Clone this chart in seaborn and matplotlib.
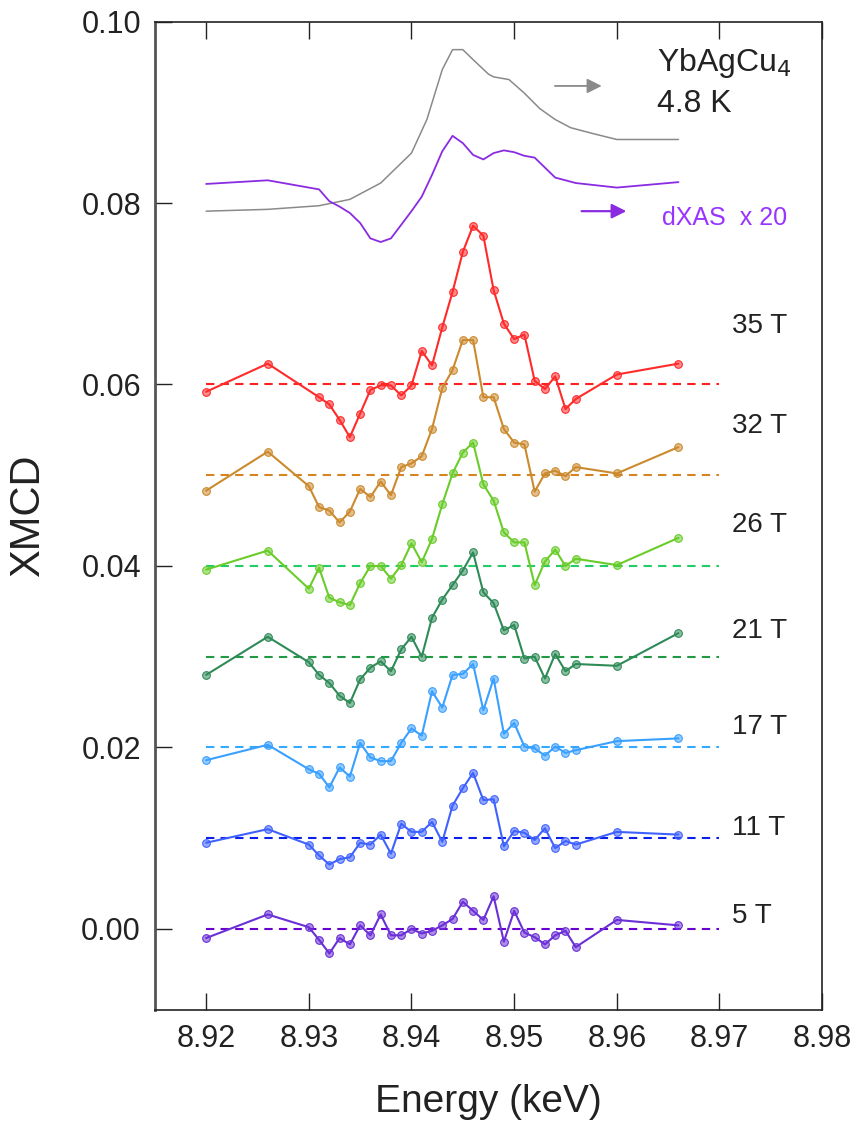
import matplotlib
matplotlib.use("Agg")
import pandas as pd
import matplotlib.pyplot as plt
from matplotlib.colors import to_rgba
import seaborn as sns

# energy grids (keV)
energy = [8.920, 8.926, 8.930, 8.931, 8.932, 8.933, 8.934, 8.935, 8.936, 8.937, 8.938,
          8.939, 8.940, 8.941, 8.942, 8.943, 8.944, 8.945, 8.946, 8.947, 8.948, 8.949,
          8.950, 8.951, 8.952, 8.953, 8.954, 8.955, 8.956, 8.960, 8.966]
energy_35t = [8.920, 8.926, 8.931, 8.932, 8.933, 8.934, 8.935, 8.936, 8.937, 8.938,
              8.939, 8.940, 8.941, 8.942, 8.943, 8.944, 8.945, 8.946, 8.947, 8.948, 8.949,
              8.950, 8.951, 8.952, 8.953, 8.954, 8.955, 8.956, 8.960, 8.966]

# XMCD spectra (already shifted as in the figure)
xmcd_35t = [0.0592, 0.0623, 0.0586, 0.0578, 0.0561, 0.0542, 0.0568, 0.0594, 0.0599, 0.0599,
            0.0588, 0.0599, 0.0637, 0.0621, 0.0663, 0.0702, 0.0746, 0.0775, 0.0764, 0.0704,
            0.0667, 0.0650, 0.0655, 0.0604, 0.0595, 0.0609, 0.0573, 0.0584, 0.0611, 0.0623]
xmcd_32t = [0.0483, 0.0526, 0.0488, 0.0465, 0.0461, 0.0448, 0.0460, 0.0485, 0.0476, 0.0493,
            0.0478, 0.0509, 0.0513, 0.0521, 0.0551, 0.0596, 0.0616, 0.0649, 0.0649, 0.0586,
            0.0586, 0.0551, 0.0536, 0.0534, 0.0482, 0.0502, 0.0505, 0.0499, 0.0509, 0.0502, 0.0531]
xmcd_26t = [0.0396, 0.0417, 0.0375, 0.0398, 0.0365, 0.0360, 0.0357, 0.0381, 0.0400, 0.0400,
            0.0386, 0.0401, 0.0425, 0.0404, 0.0430, 0.0468, 0.0502, 0.0525, 0.0536, 0.0490,
            0.0472, 0.0437, 0.0426, 0.0426, 0.0379, 0.0405, 0.0418, 0.0400, 0.0408, 0.0401, 0.0431]
xmcd_21t = [0.0280, 0.0322, 0.0294, 0.0280, 0.0271, 0.0257, 0.0249, 0.0275, 0.0288, 0.0295,
            0.0284, 0.0308, 0.0322, 0.0300, 0.0343, 0.0363, 0.0379, 0.0395, 0.0415, 0.0371,
            0.0359, 0.0329, 0.0335, 0.0298, 0.0300, 0.0276, 0.0303, 0.0284, 0.0292, 0.0290, 0.0326]
xmcd_17t = [0.0186, 0.0203, 0.0176, 0.0171, 0.0156, 0.0178, 0.0168, 0.0205, 0.0189, 0.0185,
            0.0185, 0.0205, 0.0221, 0.0213, 0.0262, 0.0244, 0.0280, 0.0281, 0.0292, 0.0241,
            0.0276, 0.0215, 0.0227, 0.0201, 0.0199, 0.0191, 0.0201, 0.0194, 0.0197, 0.0207, 0.0210]
xmcd_11t = [0.0095, 0.0110, 0.0093, 0.0081, 0.0071, 0.0077, 0.0079, 0.0095, 0.0093, 0.0104,
            0.0083, 0.0116, 0.0107, 0.0107, 0.0118, 0.0096, 0.0136, 0.0155, 0.0172, 0.0142,
            0.0143, 0.0091, 0.0108, 0.0106, 0.0098, 0.0111, 0.0089, 0.0097, 0.0093, 0.0107, 0.0104]
xmcd_5t = [-0.0010, 0.0016, 0.0002, -0.0012, -0.0027, -0.0010, -0.0017, 0.0004, -0.0007, 0.0016,
           -0.0007, -0.0007, 0.0000, -0.0005, -0.0002, 0.0004, 0.0011, 0.0030, 0.0020, 0.0010,
           0.0036, -0.0014, 0.0020, -0.0004, -0.0009, -0.0017, -0.0007, -0.0002, -0.0020, 0.0010, 0.0004]

fields = ["35 T", "32 T", "26 T", "21 T", "17 T", "11 T", "5 T"]
offsets = [0.06, 0.05, 0.04, 0.03, 0.02, 0.01, 0.00]
label_y = [0.0657, 0.0547, 0.0438, 0.0321, 0.0215, 0.0104, 0.0007]

# XAS and derivative (scaled)
energy_xas = [8.920, 8.926, 8.931, 8.934, 8.937, 8.940, 8.9415, 8.943, 8.944, 8.945, 8.946,
              8.9475, 8.948, 8.9495, 8.951, 8.9525, 8.954, 8.9555, 8.9575, 8.960, 8.966]
xas = [0.0791, 0.0793, 0.0797, 0.0804, 0.0822, 0.0855, 0.0892, 0.0947, 0.0969, 0.0969, 0.0958,
       0.0942, 0.0939, 0.0936, 0.0921, 0.0904, 0.0892, 0.0883, 0.0877, 0.0870, 0.0870]
energy_dxas = [8.920, 8.926, 8.931, 8.932, 8.933, 8.934, 8.935, 8.936, 8.937, 8.938, 8.939,
               8.940, 8.941, 8.942, 8.943, 8.944, 8.945, 8.946, 8.947, 8.948, 8.949, 8.950,
               8.951, 8.952, 8.953, 8.954, 8.956, 8.960, 8.966]
dxas = [0.0821, 0.0825, 0.0815, 0.0802, 0.0796, 0.0789, 0.0778, 0.0761, 0.0757, 0.0761, 0.0776,
        0.0791, 0.0807, 0.0831, 0.0857, 0.0874, 0.0866, 0.0853, 0.0848, 0.0855, 0.0858, 0.0856,
        0.0852, 0.0850, 0.0839, 0.0828, 0.0822, 0.0817, 0.0823]

line_colors = ["#ff2a2a", "#cc8a2e", "#6acc2a", "#2e8b57", "#3aa0ff", "#3f62ff", "#6a2fd6"]
dash_colors = ["#ff2020", "#d48420", "#22cc66", "#229944", "#33aaff", "#0a1fe8", "#6a00d0"]

sns.set_style("ticks")
plt.rcParams['font.family'] = ['Liberation Sans', 'DejaVu Sans']

fig = plt.figure(figsize=(8.6, 11.32), dpi=100)
ax = fig.add_axes([0.180, 0.108, 0.776, 0.873])

series = [xmcd_35t, xmcd_32t, xmcd_26t, xmcd_21t, xmcd_17t, xmcd_11t, xmcd_5t]
for i, vals in enumerate(series):
    x = energy_35t if i == 0 else energy
    df = pd.DataFrame({'Energy': x, 'XMCD': vals})
    ax.hlines(offsets[i], 8.92, 8.97, colors=dash_colors[i], linestyles=(0, (4, 3)), lw=1.5)
    sns.lineplot(data=df, x='Energy', y='XMCD', ax=ax, sort=False, estimator=None,
                 color=line_colors[i], lw=1.5, marker='o', markersize=5.5,
                 markerfacecolor=to_rgba(line_colors[i], 0.55),
                 markeredgecolor=line_colors[i], markeredgewidth=0.8)
    ax.text(8.9712, label_y[i], fields[i], fontsize=20, color='#222222', va='baseline')

sns.lineplot(x=energy_xas, y=xas, ax=ax, sort=False, estimator=None, color='#8a8a8a', lw=1.1)
sns.lineplot(x=energy_dxas, y=dxas, ax=ax, sort=False, estimator=None, color='#8a2be2', lw=1.3)

ax.annotate('', xy=(8.9588, 0.0929), xytext=(8.9537, 0.0929),
            arrowprops=dict(arrowstyle='-|>', color='#8a8a8a', lw=1.3, mutation_scale=22))
ax.annotate('', xy=(8.9612, 0.0791), xytext=(8.9563, 0.0791),
            arrowprops=dict(arrowstyle='-|>', color='#8a2be2', lw=1.6, mutation_scale=22))
ax.text(8.9639, 0.0945, 'YbAgCu$_4$', fontsize=23, color='#222222', va='baseline')
ax.text(8.9639, 0.0900, '4.8 K', fontsize=23, color='#222222', va='baseline')
ax.text(8.9644, 0.0776, 'dXAS  x 20', fontsize=18, color='#9933ff', va='baseline')

ax.set_xlim(8.915, 8.98)
ax.set_ylim(-0.0089, 0.1)
ax.set_xticks([8.92, 8.93, 8.94, 8.95, 8.96, 8.97, 8.98])
ax.set_xticklabels([f"{t:.2f}" for t in ax.get_xticks()])
ax.set_yticks([0.0, 0.02, 0.04, 0.06, 0.08, 0.10])
ax.set_yticklabels([f"{t:.2f}" for t in ax.get_yticks()])
ax.tick_params(axis='both', direction='in', length=12, width=1, labelsize=22, colors='#222222',
               top=True, right=False, pad=10)
ax.set_xlabel('Energy (keV)', fontsize=28, labelpad=22, color='#222222')
ax.set_ylabel('XMCD', fontsize=30, labelpad=24, color='#222222')
for s in ax.spines.values():
    s.set_linewidth(1.2)
    s.set_color('#222222')
ax.spines['left'].set_linewidth(2.0)
ax.spines['left'].set_color('#555555')

fig.savefig('out.png', dpi=100)
